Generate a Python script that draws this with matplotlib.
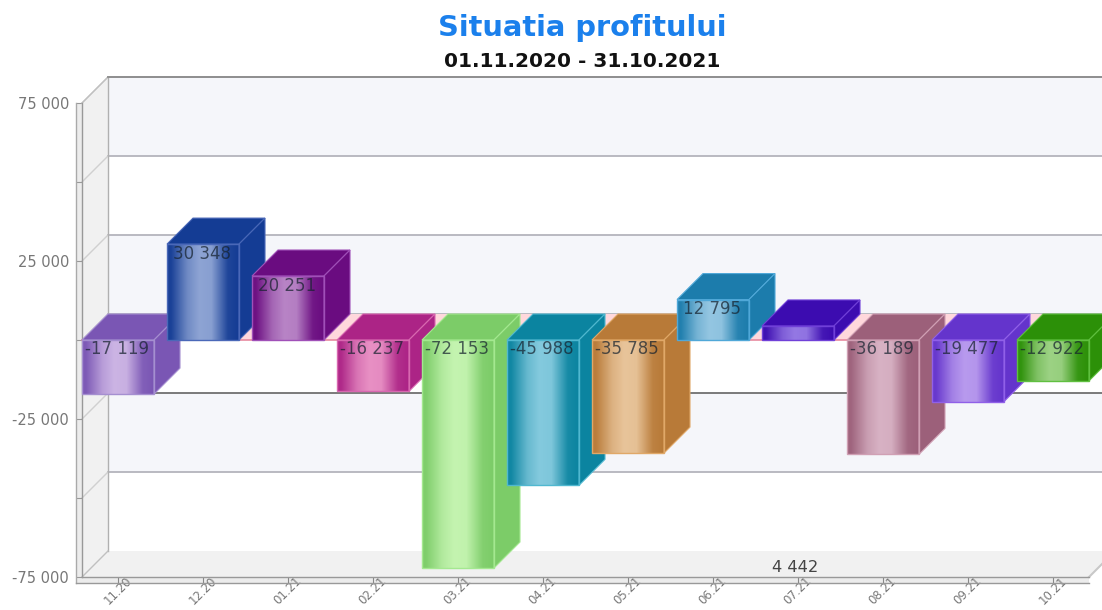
import numpy as np
import matplotlib
matplotlib.use("Agg")
import matplotlib.pyplot as plt
from matplotlib.colors import to_rgb
from matplotlib.patches import Polygon
from matplotlib.ticker import FixedLocator

months = ["11.20","12.20","01.21","02.21","03.21","04.21","05.21","06.21","07.21","08.21","09.21","10.21"]
values = [-17119,30348,20251,-16237,-72153,-45988,-35785,12795,4442,-36189,-19477,-12922]
labels = ["-17 119","30 348","20 251","-16 237","-72 153","-45 988","-35 785","12 795","4 442","-36 189","-19 477","-12 922"]
dark = ["#7a56b4","#143c94","#6a0c80","#ac2486","#7ccc68","#0b84a0","#b87a38","#1c7cac","#3c0cb0","#9c607a","#6434cc","#2c9008"]
light = ["#ccb4e4","#8ea4d4","#b884c6","#e890c4","#c4f4b0","#84cade","#e8c49a","#94c6e2","#9478e4","#d8b2c4","#b89aee","#9cd284"]
border = ["#a58fd0","#4a68b8","#a050b8","#d868b0","#a4e890","#50b8d0","#e0a868","#50a8d8","#7040d8","#d0a0b4","#9060e8","#60c040"]
ytick_vals = [-75000,-25000,25000,75000]
ytick_labs = ["-75 000","-25 000","25 000","75 000"]
grid_vals = [-75000,-50000,-25000,0,25000,50000,75000]

W, H = 1102, 610
fig = plt.figure(figsize=(W/100, H/100), dpi=100, facecolor="white")
ax = fig.add_axes([82/W, (H-577)/H, (W-82)/W, (577-103)/H])
px_per_x = 85.0
px_per_y = 474.0/150000
xlo = -36/px_per_x
xhi = xlo + (W-82)/px_per_x
ddx = 26/px_per_x
ddy = 26/px_per_y
half = 36/px_per_x
ax.set_xlim(xlo, xhi)
ax.set_ylim(-75000, 75000)
xend = len(months)-1+half
ox = 6/px_per_x
oy = 6/px_per_y

def poly(pts, fc, ec="none", lw=0, z=1):
    p = Polygon(pts, closed=True, facecolor=fc, edgecolor=ec, linewidth=lw, zorder=z, clip_on=False)
    ax.add_patch(p)

# back wall bands
for k, (a, b) in enumerate(zip(grid_vals[:-1], grid_vals[1:])):
    col = "#ffffff" if (k % 2 == 0) else "#f5f6fa"
    poly([(xlo+ddx,a+ddy),(xend+ddx,a+ddy),(xend+ddx,b+ddy),(xlo+ddx,b+ddy)], col, z=1)
# left wall and floor
poly([(xlo,-75000),(xlo+ddx,-75000+ddy),(xlo+ddx,75000+ddy),(xlo,75000)], "#f1f1f1", z=1.2)
poly([(xlo,-75000),(xend,-75000),(xend+ddx,-75000+ddy),(xlo+ddx,-75000+ddy)], "#f1f1f1", z=1.2)
# thin strips between the doubled axis lines
poly([(xlo-ox,-75000-oy),(xlo,-75000-oy),(xlo,75000),(xlo-ox,75000)], "#ececec", z=1.2)
poly([(xlo-ox,-75000-oy),(xend,-75000-oy),(xend,-75000),(xlo-ox,-75000)], "#ececec", z=1.2)
# grid lines
for v in grid_vals:
    if v == -75000:
        continue
    c = "#6f6f6f" if v == -25000 else "#b4b4bc"
    ax.plot([xlo+ddx, xend+ddx],[v+ddy, v+ddy], color=c, lw=1.3, zorder=1.5, clip_on=False)
    ax.plot([xlo, xlo+ddx],[v, v+ddy], color="#d0d0d0", lw=1, zorder=1.5, clip_on=False)
ax.plot([xlo+ddx, xlo+ddx],[-75000+ddy, 75000+ddy], color="#b0b0b0", lw=1, zorder=1.5, clip_on=False)
ax.plot([xlo, xlo+ddx],[-75000, -75000+ddy], color="#c0c0c0", lw=1, zorder=1.5, clip_on=False)
ax.plot([xend, xend+ddx],[-75000, -75000+ddy], color="#c8c8c8", lw=1.5, zorder=1.5, clip_on=False)
# zero plane
poly([(xlo,0),(xend,0),(xend+ddx,ddy),(xlo+ddx,ddy)], "#ffd8dc", z=2)
ax.plot([xlo, xend],[0,0], color="#e88aa0", lw=1.2, zorder=2.1, clip_on=False)

# bars
stops = [0, .05, .28, .45, .62, .85, 1]
for i, v in enumerate(values):
    z = 5 + i
    d = np.array(to_rgb(dark[i])); l = np.array(to_rgb(light[i]))
    t = np.linspace(0, 1, 64)
    mix = np.interp(t, stops, [0.05, .05, .75, 1, .95, .1, 0])
    img = (d[None,:]*(1-mix[:,None]) + l[None,:]*mix[:,None])[None,:,:]
    x0, x1 = i-half, i+half
    top, bot = max(v,0), min(v,0)
    ax.imshow(img, extent=(x0,x1,bot,top), origin="lower", aspect="auto",
              interpolation="bilinear", zorder=z).set_clip_on(False)
    poly([(x0,top),(x1,top),(x1+ddx,top+ddy),(x0+ddx,top+ddy)], dark[i], ec=border[i], lw=.8, z=z)
    poly([(x1,top),(x1+ddx,top+ddy),(x1+ddx,bot+ddy),(x1,bot)], dark[i], ec=border[i], lw=.8, z=z)
    poly([(x0,bot),(x1,bot),(x1,top),(x0,top)], "none", ec=border[i], lw=1, z=z+.1)
    if i != 8:
        ax.annotate(labels[i], (i, top), xytext=(-1*.72,-9.5*.72), textcoords="offset points",
                    ha="center", va="center", fontsize=12, color="#16222e", alpha=.72,
                    zorder=z+.2, annotation_clip=False)
    else:
        ax.annotate(labels[i], (i, -75000), xytext=(-3*.72,10*.72), textcoords="offset points",
                    ha="center", va="center", fontsize=11.7, color="#444444",
                    zorder=z+.2, annotation_clip=False)

# axes
for s in ("top","right"):
    ax.spines[s].set_visible(False)
for s in ("left","bottom"):
    ax.spines[s].set_color("#999999")
    ax.spines[s].set_linewidth(1)
    ax.spines[s].set_zorder(3)
ax.spines["bottom"].set_bounds(xlo, xend)
ax.set_xticks(range(len(months)))
ax.set_xticklabels(months, rotation=45, fontsize=8.4, color="#777777", ha="center", va="top")
ax.tick_params(axis="x", length=6*.72, width=.8, color="#888888", pad=-6, direction="out")
ax.set_yticks(ytick_vals)
ax.set_yticklabels(ytick_labs, fontsize=10.5, color="#777777")
ax.yaxis.set_minor_locator(FixedLocator([-50000,0,50000]))
ax.tick_params(axis="y", which="both", length=6*.72, width=.8, color="#999999", pad=5)
# outer frame of the axes
ax.plot([xlo-ox, xlo-ox],[-75000-oy, 75000], color="#aaaaaa", lw=1, zorder=3, clip_on=False)
ax.plot([xlo-ox, xend],[-75000-oy, -75000-oy], color="#999999", lw=1, zorder=3, clip_on=False)
ax.plot([xlo, xlo+ddx],[75000, 75000+ddy], color="#c0c0c0", lw=1, zorder=3, clip_on=False)
ax.plot([xlo+ddx, xend+ddx],[75000+ddy, 75000+ddy], color="#8c8c8c", lw=1.3, zorder=3, clip_on=False)
ax.patch.set_alpha(0)

fig.text(582/W, 1-27.5/H, "Situatia profitului", ha="center", va="center", fontsize=20.8,
         fontweight="bold", color="#1b80ec")
fig.text(582/W, 1-61.5/H, "01.11.2020 - 31.10.2021", ha="center", va="center", fontsize=14.5,
         fontweight="bold", color="#111111")
fig.savefig("out.png", dpi=100)
